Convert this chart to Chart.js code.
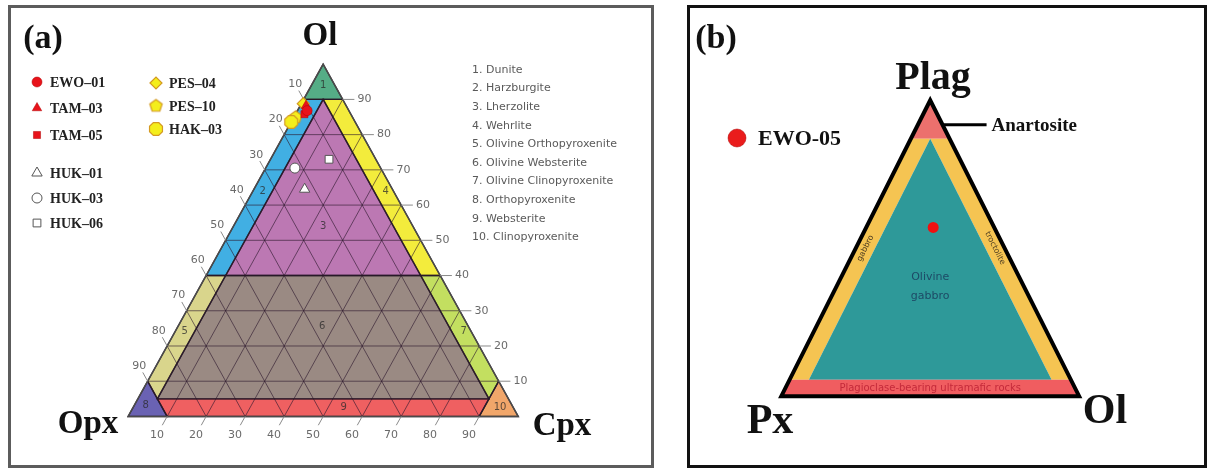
<!DOCTYPE html>
<html lang="en">
<head>
<meta charset="UTF-8">
<script src="https://cdn.jsdelivr.net/npm/chart.js@4"></script>
<style>
  body { margin: 0; background: #fff; width: 1211px; height: 470px; overflow: hidden; position: relative; }
  .frame { position: absolute; box-sizing: border-box; }
  #frameA { left: 8px; top: 5px; width: 646px; height: 463px; border: 3px solid #5c5c5c; }
  #frameB { left: 687px; top: 5px; width: 520px; height: 463px; border: 3px solid #111; }
  canvas { position: absolute; top: 0; }
  #chartA { left: 0; }
  #chartB { left: 670px; }
</style>
</head>
<body>
<div class="frame" id="frameA"></div>
<div class="frame" id="frameB"></div>
<canvas id="chartA" width="660" height="470"></canvas>
<canvas id="chartB" width="541" height="470"></canvas>
<script>
// ---------- (a) Ol - Opx - Cpx (modal %) ----------
const samplesA = ['EWO–01', 'TAM–03', 'TAM–05', 'HUK–01', 'HUK–03', 'HUK–06', 'PES–04', 'PES–10', 'HAK–03'];
const olA  = [86.8, 88.2, 85.8, 64.5, 70.5, 73.0, 88.8, 84.9, 83.6];
const opxA = [10.7, 10.3, 11.9, 22.5, 22.0, 12.0, 10.7, 14.6, 16.4];
const cpxA = [2.5, 1.5, 2.3, 13.0, 7.5, 15.0, 0.5, 0.5, 0.0];

const ticksA = [10, 20, 30, 40, 50, 60, 70, 80, 90];

const fieldNamesA = ['Dunite', 'Harzburgite', 'Lherzolite', 'Wehrlite', 'Olivine Orthopyroxenite',
  'Olivine Websterite', 'Olivine Clinopyroxenite', 'Orthopyroxenite', 'Websterite', 'Clinopyroxenite'];
// field outlines as [Ol, Cpx] (Opx = 100 - Ol - Cpx)
const fieldPolysA = [
  [[100, 0], [90, 0], [90, 10]],
  [[90, 0], [90, 5], [40, 5], [40, 0]],
  [[90, 5], [40, 5], [40, 55]],
  [[90, 5], [90, 10], [40, 60], [40, 55]],
  [[40, 0], [40, 5], [5, 5], [10, 0]],
  [[40, 5], [40, 55], [5, 90], [5, 5]],
  [[40, 55], [40, 60], [10, 90], [5, 90]],
  [[0, 0], [10, 0], [0, 10]],
  [[5, 5], [5, 90], [0, 90], [0, 10]],
  [[0, 100], [10, 90], [0, 90]]
];
const fieldNumPosA = [[94, 3], [64, 2.5], [54, 23], [64, 34], [24, 2.5], [25.5, 37], [24, 74], [3, 3], [2.5, 54], [2.7, 94]];

// ---------- (b) Plag - Px - Ol ----------
const samplesB = ['EWO-05'];
const plagB = [57.0];
const pxB   = [20.5];
const olB   = [22.5];

const fieldNamesB = ['Anartosite', 'gabbro', 'troctolite', 'Olivine gabbro', 'Plagioclase-bearing ultramafic rocks'];
// field outlines as [Plag, Ol] (Px = 100 - Plag - Ol)
const fieldPolysB = [
  [[100, 0], [87, 0], [87, 13]],
  [[87, 0], [87, 6.5], [5.5, 6.5], [5.5, 0]],
  [[87, 6.5], [87, 13], [5.5, 94.5], [5.5, 88]],
  [[87, 6.5], [5.5, 6.5], [5.5, 88]],
  [[5.5, 0], [5.5, 94.5], [0, 100], [0, 0]]
];

const colA = ['#55ad86', '#41afe3', '#bc78b3', '#f3ec3c', '#d9d58c', '#9a8a83', '#c3df60', '#6a62b3', '#ef6061', '#f1a66a'];
const colB = ['#ec706d', '#f5c452', '#f5c452', '#2e9999', '#f05d60'];

const SERIF = '"Liberation Serif", "Times New Roman", serif';
const SANS = '"DejaVu Sans", Verdana, sans-serif';

function polyMarker(n, r, fill, stroke) {
  const c = document.createElement('canvas');
  const s = Math.ceil(2 * r + 4);
  c.width = c.height = s;
  const g = c.getContext('2d');
  g.beginPath();
  for (let k = 0; k < n; k++) {
    const a = -Math.PI / 2 + (n === 8 ? Math.PI / 8 : 0) + k * 2 * Math.PI / n;
    g.lineTo(s / 2 + r * Math.cos(a), s / 2 + r * Math.sin(a));
  }
  g.closePath();
  g.fillStyle = fill; g.fill();
  g.lineWidth = 1.2; g.strokeStyle = stroke; g.stroke();
  return c;
}

const styleA = [
  { pointStyle: 'circle', pointRadius: 5, backgroundColor: '#e8131b', borderColor: '#b00000', borderWidth: 0.5 },
  { pointStyle: 'triangle', pointRadius: 5.5, backgroundColor: '#e8131b', borderColor: '#b00000', borderWidth: 0.5 },
  { pointStyle: 'rect', pointRadius: 5, backgroundColor: '#e8131b', borderColor: '#b00000', borderWidth: 0.5 },
  { pointStyle: 'triangle', pointRadius: 6, backgroundColor: '#ffffff', borderColor: '#555555', borderWidth: 1 },
  { pointStyle: 'circle', pointRadius: 5, backgroundColor: '#ffffff', borderColor: '#555555', borderWidth: 1 },
  { pointStyle: 'rect', pointRadius: 5.5, backgroundColor: '#ffffff', borderColor: '#555555', borderWidth: 1 },
  { pointStyle: 'rectRot', pointRadius: 6, backgroundColor: '#f4ee1c', borderColor: '#d49a22', borderWidth: 1.2 },
  { pointStyle: polyMarker(5, 6.5, '#f4ee1c', '#d49a22'), pointRadius: 6.5, backgroundColor: '#f4ee1c', borderColor: '#d49a22', borderWidth: 1.2 },
  { pointStyle: polyMarker(8, 7, '#f4ee1c', '#d49a22'), pointRadius: 7, backgroundColor: '#f4ee1c', borderColor: '#d49a22', borderWidth: 1.2 }
];
const drawOrderA = [3, 4, 5, 0, 1, 2, 8, 7, 6];

function drawMarker(ctx, st, x, y) {
  ctx.save();
  ctx.fillStyle = st.backgroundColor;
  ctx.strokeStyle = st.borderColor;
  ctx.lineWidth = st.borderWidth;
  Chart.helpers.drawPoint(ctx, { pointStyle: st.pointStyle, radius: st.pointRadius, rotation: 0, borderWidth: st.borderWidth }, x, y);
  ctx.restore();
}

function pathPoly(ctx, pts) {
  ctx.beginPath();
  pts.forEach((p, k) => k ? ctx.lineTo(p[0], p[1]) : ctx.moveTo(p[0], p[1]));
  ctx.closePath();
}

function seg(ctx, a, b) {
  ctx.beginPath(); ctx.moveTo(a[0], a[1]); ctx.lineTo(b[0], b[1]); ctx.stroke();
}

function text(ctx, s, x, y, font, color, align, base) {
  ctx.font = font; ctx.fillStyle = color;
  ctx.textAlign = align || 'center'; ctx.textBaseline = base || 'middle';
  ctx.fillText(s, x, y);
}

// ternary (Ol, Cpx) -> pixel through the chart scales
function mapA(chart) {
  const sx = chart.scales.x, sy = chart.scales.y;
  return (ol, cpx) => [sx.getPixelForValue((cpx + ol / 2) / 100), sy.getPixelForValue(ol / 100)];
}
function mapB(chart) {
  const sx = chart.scales.x, sy = chart.scales.y;
  return (plag, ol) => [sx.getPixelForValue((ol + plag / 2) / 100), sy.getPixelForValue(plag / 100)];
}

const ternaryA = {
  id: 'ternaryA',
  beforeDatasetsDraw(chart) {
    const ctx = chart.ctx, P = mapA(chart);
    ctx.save();
    fieldPolysA.forEach((poly, i) => {
      pathPoly(ctx, poly.map(v => P(v[0], v[1])));
      ctx.fillStyle = colA[i];
      ctx.fill();
    });
    // 10 % grid
    ctx.strokeStyle = 'rgba(45,25,45,0.62)';
    ctx.lineWidth = 1;
    ticksA.forEach(v => {
      seg(ctx, P(v, 0), P(v, 100 - v));
      seg(ctx, P(0, v), P(100 - v, v));
      seg(ctx, P(0, 100 - v), P(100 - v, 0));
    });
    // field boundaries
    ctx.strokeStyle = 'rgba(40,25,40,0.85)';
    ctx.lineWidth = 1.4;
    fieldPolysA.forEach(poly => { pathPoly(ctx, poly.map(v => P(v[0], v[1]))); ctx.stroke(); });
    ctx.strokeStyle = '#4a4a4a';
    ctx.lineWidth = 1.5;
    pathPoly(ctx, [P(100, 0), P(0, 0), P(0, 100)]);
    ctx.stroke();

    // ticks + labels
    ctx.strokeStyle = '#8a8a8a';
    ctx.lineWidth = 1;
    const tf = '11px ' + SANS, tc = '#6a6a6a';
    ticksA.forEach(v => {
      // left edge: Opx %
      seg(ctx, P(100 - v, 0), P(100 - v + 2.5, -2.5));
      let q = P(100 - v + 4.3, -4.3);
      text(ctx, String(v), q[0], q[1], tf, tc);
      // right edge: Ol %
      seg(ctx, P(v, 100 - v), P(v, 100 - v + 3));
      q = P(v, 100 - v + 5.6);
      text(ctx, String(v), q[0], q[1], tf, tc);
      // base: Cpx %
      seg(ctx, P(0, v), P(-2.5, v));
      q = P(-5.2, v);
      text(ctx, String(v), q[0], q[1], tf, tc);
    });

    // field numbers
    fieldNumPosA.forEach((v, i) => {
      const q = P(v[0], v[1]);
      text(ctx, String(i + 1), q[0], q[1], '10px ' + SANS, 'rgba(40,40,40,0.75)');
    });
    ctx.restore();
  },
  afterDatasetsDraw(chart) {
    const ctx = chart.ctx;
    ctx.save();
    text(ctx, '(a)', 43, 48, 'bold 34px ' + SERIF, '#111', 'center', 'alphabetic');
    text(ctx, 'Ol', 320, 45, 'bold 33px ' + SERIF, '#111', 'center', 'alphabetic');
    text(ctx, 'Opx', 88, 433, 'bold 33px ' + SERIF, '#111', 'center', 'alphabetic');
    text(ctx, 'Cpx', 562, 435, 'bold 33px ' + SERIF, '#111', 'center', 'alphabetic');

    // sample legend
    const rows = [[0, 37, 82], [1, 37, 108], [2, 37, 135], [3, 37, 173], [4, 37, 198], [5, 37, 223],
                  [6, 156, 83], [7, 156, 106], [8, 156, 129]];
    rows.forEach(r => {
      drawMarker(ctx, styleA[r[0]], r[1], r[2]);
      text(ctx, samplesA[r[0]], r[1] + 13, r[2] + 1, 'bold 14px ' + SERIF, '#222', 'left');
    });

    // field legend
    fieldNamesA.forEach((n, i) => {
      text(ctx, (i + 1) + '. ' + n, 472, 70 + i * 18.6, '11px ' + SANS, '#5a5a5a', 'left');
    });
    ctx.restore();
  }
};

const ternaryB = {
  id: 'ternaryB',
  beforeDatasetsDraw(chart) {
    const ctx = chart.ctx, P = mapB(chart);
    ctx.save();
    fieldPolysB.forEach((poly, i) => {
      pathPoly(ctx, poly.map(v => P(v[0], v[1])));
      ctx.fillStyle = colB[i];
      ctx.fill();
    });
    ctx.strokeStyle = '#000';
    ctx.lineWidth = 4;
    ctx.lineJoin = 'miter';
    pathPoly(ctx, [P(100, 0), P(0, 0), P(0, 100)]);
    ctx.stroke();

    // field names
    let q = P(37, 31.5);
    text(ctx, 'Olivine', q[0], q[1] - 9.5, '11px ' + SANS, '#1d4a66');
    text(ctx, 'gabbro', q[0], q[1] + 9.5, '11px ' + SANS, '#1d4a66');
    q = P(2.7, 48.65);
    text(ctx, fieldNamesB[4], q[0], q[1], '10px ' + SANS, '#c42a3a');

    const a0 = P(0, 0), a1 = P(100, 0), a2 = P(0, 100);
    const angL = Math.atan2(a1[1] - a0[1], a1[0] - a0[0]);
    const angR = Math.atan2(a2[1] - a1[1], a2[0] - a1[0]);
    [[fieldNamesB[1], P(50, 3.25), angL], [fieldNamesB[2], P(50, 46.75), angR]].forEach(t => {
      ctx.save();
      ctx.translate(t[1][0], t[1][1]);
      ctx.rotate(t[2]);
      text(ctx, t[0], 0, 0, '8px ' + SANS, '#4a3a20');
      ctx.restore();
    });

    // anorthosite pointer
    q = P(91.7, 8.3);
    ctx.lineWidth = 3;
    seg(ctx, [q[0] + 1, q[1]], [q[0] + 44, q[1]]);
    text(ctx, fieldNamesB[0], q[0] + 49, q[1] + 1, 'bold 19px ' + SERIF, '#111', 'left');
    ctx.restore();
  },
  afterDatasetsDraw(chart) {
    const ctx = chart.ctx;
    ctx.save();
    text(ctx, '(b)', 46, 48, 'bold 34px ' + SERIF, '#111', 'center', 'alphabetic');
    text(ctx, 'Plag', 263, 89, 'bold 40px ' + SERIF, '#111', 'center', 'alphabetic');
    text(ctx, 'Px', 100, 433, 'bold 42px ' + SERIF, '#111', 'center', 'alphabetic');
    text(ctx, 'Ol', 435, 423, 'bold 42px ' + SERIF, '#111', 'center', 'alphabetic');
    drawMarker(ctx, { pointStyle: 'circle', pointRadius: 9, backgroundColor: '#ea1c1c', borderColor: '#a00', borderWidth: 0.5 }, 67, 138);
    text(ctx, samplesB[0], 88, 139, 'bold 22px ' + SERIF, '#111', 'left');
    ctx.restore();
  }
};

function baseOptions(xmin, xmax, ymin, ymax) {
  return {
    responsive: false,
    animation: false,
    layout: { padding: 0 },
    plugins: { legend: { display: false }, tooltip: { enabled: false } },
    scales: {
      x: { type: 'linear', min: xmin, max: xmax, display: false },
      y: { type: 'linear', min: ymin, max: ymax, display: false }
    }
  };
}

// (a): Opx corner at x=123,y=423, Cpx at x=523, Ol apex at y=58 (canvas 660 x 470)
const dsA = drawOrderA.map(i => Object.assign({
  label: samplesA[i],
  data: [{ x: (cpxA[i] + olA[i] / 2) / 100, y: olA[i] / 100 }]
}, styleA[i]));

new Chart(document.getElementById('chartA'), {
  type: 'scatter',
  data: { datasets: dsA },
  options: baseOptions(-123 / 400, (660 - 123) / 400, 1 + 58 / 365 - 470 / 365, 1 + 58 / 365),
  plugins: [ternaryA]
});

// (b): Px corner at x=108 (canvas), Ol at x=412, base y=400, apex y=97 (canvas 541 x 470)
new Chart(document.getElementById('chartB'), {
  type: 'scatter',
  data: {
    datasets: samplesB.map((s, i) => ({
      label: s,
      data: [{ x: (olB[i] + plagB[i] / 2) / 100, y: plagB[i] / 100 }],
      pointStyle: 'circle', pointRadius: 5.5, backgroundColor: '#f01010', borderWidth: 0
    }))
  },
  options: baseOptions(-108 / 304, (541 - 108) / 304, 1 + 97 / 303 - 470 / 303, 1 + 97 / 303),
  plugins: [ternaryB]
});
</script>
</body>
</html>
